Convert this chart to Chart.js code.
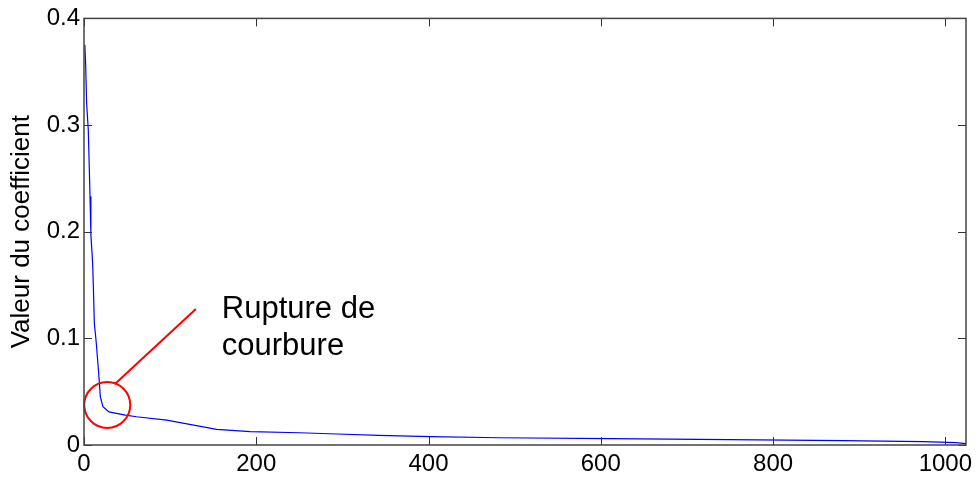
<!DOCTYPE html>
<html>
<head>
<meta charset="utf-8">
<script src="https://cdn.jsdelivr.net/npm/chart.js@4"></script>
<style>
  html, body { margin: 0; padding: 0; background: #fff; }
  #wrap { width: 978px; height: 479px; }
</style>
</head>
<body>
<div id="wrap"><canvas id="coefChart" width="978" height="479"></canvas></div>
<script>
// coefficient index / value
const coefIndex = [1, 2, 3, 5, 6, 7, 8, 10, 11, 12, 14, 17, 19, 22, 29, 48, 61, 96, 154, 193,
  250, 294, 342, 403, 482, 610, 748, 881, 974, 1012, 1024];
const coefValue = [0.375, 0.355, 0.321, 0.295, 0.264, 0.233, 0.197, 0.171, 0.145, 0.114, 0.098,
  0.068, 0.045, 0.036, 0.031, 0.028, 0.0265, 0.0234, 0.0147, 0.0125,
  0.0115, 0.0103, 0.0091, 0.0078, 0.0068, 0.0059, 0.0050, 0.0041, 0.0032, 0.0023, 0.0012];

const xTicks = [0, 200, 400, 600, 800, 1000];
const yTicks = [0, 0.1, 0.2, 0.3, 0.4];
const xMax = 1024;

const yTitle = "Valeur du coefficient";
const noteLines = ["Rupture de", "courbure"];
// annotation anchors in data units
const noteCircle = { x: 27, y: 0.0375 };
const notePointer = [{ x: 35.6, y: 0.057 }, { x: 129.9, y: 0.1275 }];
const noteText = [{ x: 160, y: 0.119 }, { x: 160, y: 0.084 }];

const FONT = "'Liberation Sans', Arial, Helvetica, sans-serif";
Chart.defaults.font.family = FONT;
Chart.defaults.color = "#000";

// matlab style box with inward ticks
const boxPlugin = {
  id: "box",
  afterDraw(chart) {
    const { ctx, chartArea: a, scales } = chart;
    const len = 8;
    ctx.save();
    ctx.strokeStyle = "#333";
    ctx.lineWidth = 1;
    ctx.beginPath();
    xTicks.forEach(v => {
      const px = Math.round(scales.x.getPixelForValue(v)) + 0.5;
      ctx.moveTo(px, a.bottom); ctx.lineTo(px, a.bottom - len);
      ctx.moveTo(px, a.top); ctx.lineTo(px, a.top + len);
    });
    yTicks.forEach(v => {
      const py = Math.round(scales.y.getPixelForValue(v)) + 0.5;
      ctx.moveTo(a.left, py); ctx.lineTo(a.left + len, py);
      ctx.moveTo(a.right, py); ctx.lineTo(a.right - len, py);
    });
    ctx.stroke();
    ctx.strokeStyle = "#444";
    ctx.lineWidth = 1.5;
    ctx.strokeRect(a.left, a.top, a.right - a.left, a.bottom - a.top);
    ctx.restore();
  }
};

const notePlugin = {
  id: "note",
  afterDatasetsDraw(chart) {
    const { ctx, scales } = chart;
    const X = v => scales.x.getPixelForValue(v);
    const Y = v => scales.y.getPixelForValue(v);
    ctx.save();
    ctx.strokeStyle = "#ff0000";
    ctx.lineWidth = 2;
    ctx.beginPath();
    ctx.arc(X(noteCircle.x), Y(noteCircle.y), 23, 0, Math.PI * 2);
    ctx.stroke();
    ctx.beginPath();
    ctx.moveTo(X(notePointer[0].x), Y(notePointer[0].y));
    ctx.lineTo(X(notePointer[1].x), Y(notePointer[1].y));
    ctx.stroke();
    ctx.fillStyle = "#000";
    ctx.font = "31px " + FONT;
    ctx.textBaseline = "alphabetic";
    noteLines.forEach((t, i) => {
      ctx.fillText(t, X(noteText[i].x), Y(noteText[i].y));
    });
    ctx.restore();
  }
};

const points = coefIndex.map((x, i) => ({ x: x, y: coefValue[i] }));

new Chart(document.getElementById("coefChart"), {
  type: "line",
  data: {
    datasets: [{
      data: points,
      borderColor: "#0000ff",
      borderWidth: 1.2,
      pointRadius: 0,
      tension: 0,
      fill: false
    }]
  },
  options: {
    responsive: false,
    animation: false,
    layout: { padding: { top: 18, right: 12, left: 0, bottom: 0 } },
    plugins: { legend: { display: false }, tooltip: { enabled: false } },
    scales: {
      x: {
        type: "linear",
        min: 0,
        max: xMax,
        afterBuildTicks: s => { s.ticks = xTicks.map(v => ({ value: v })); },
        afterFit: s => { s.height = 34; },
        grid: { display: false, drawTicks: false },
        border: { display: false },
        ticks: {
          font: { size: 24 }, padding: 5, maxRotation: 0, autoSkip: false,
          callback: v => String(v)
        }
      },
      y: {
        type: "linear",
        min: 0,
        max: 0.4,
        afterBuildTicks: s => { s.ticks = yTicks.map(v => ({ value: v })); },
        afterFit: s => { s.width = 84; },
        grid: { display: false, drawTicks: false },
        border: { display: false },
        ticks: { font: { size: 24 }, padding: 4, callback: v => String(v) },
        title: {
          display: true,
          text: yTitle,
          font: { size: 26 },
          padding: { top: 6, bottom: 0 }
        }
      }
    }
  },
  plugins: [boxPlugin, notePlugin]
});
</script>
</body>
</html>
